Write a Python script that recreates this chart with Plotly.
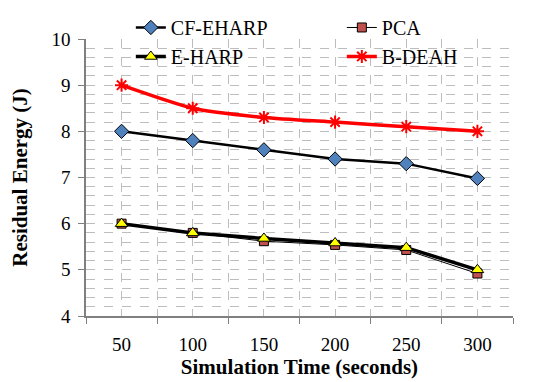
import plotly.graph_objects as go

times = [50, 100, 150, 200, 250, 300]
cf_eharp = [8.0, 7.8, 7.6, 7.4, 7.3, 6.98]
pca = [6.0, 5.8, 5.62, 5.54, 5.43, 4.92]
e_harp = [6.0, 5.8, 5.68, 5.58, 5.48, 5.0]
b_deah = [9.0, 8.5, 8.3, 8.2, 8.1, 8.0]

fig = go.Figure()
fig.add_trace(go.Scatter(x=times, y=cf_eharp, name="CF-EHARP", mode="lines+markers",
                         line=dict(color="black", width=2.5),
                         marker=dict(symbol="diamond", size=11, color="#4f81bd",
                                     line=dict(color="black", width=1))))
fig.add_trace(go.Scatter(x=times, y=pca, name="PCA", mode="lines+markers",
                         line=dict(color="black", width=1),
                         marker=dict(symbol="square", size=9, color="#c0504d",
                                     line=dict(color="black", width=1))))
fig.add_trace(go.Scatter(x=times, y=e_harp, name="E-HARP", mode="lines+markers",
                         line=dict(color="black", width=3.5),
                         marker=dict(symbol="triangle-up", size=11, color="#ffff00",
                                     line=dict(color="black", width=1))))
fig.add_trace(go.Scatter(x=times, y=b_deah, name="B-DEAH", mode="lines+markers",
                         line=dict(color="#ff0000", width=3.5, shape="spline", smoothing=0.6),
                         marker=dict(symbol="asterisk-open", size=11, color="#ff0000",
                                     line=dict(color="#ff0000", width=2))))

grid = "#bdbdbd"
serif = "Liberation Serif, Times New Roman, serif"
fig.update_layout(
    width=542, height=374,
    margin=dict(l=78, r=37, t=31, b=66, autoexpand=False),
    paper_bgcolor="white", plot_bgcolor="white",
    font=dict(family=serif, size=19, color="black"),
    legend=dict(orientation="h", x=0.105, y=1.112, xanchor="left", yanchor="top",
                entrywidth=166, entrywidthmode="pixels", bgcolor="rgba(0,0,0,0)",
                font=dict(family=serif, size=20), tracegroupgap=0),
    xaxis=dict(range=[25, 325], tickvals=times, ticktext=[str(t) for t in times],
               ticks="", showline=True, linecolor="#808080", linewidth=1.5,
               showgrid=True, gridcolor=grid, griddash="dash", gridwidth=1,
               zeroline=False, automargin=False, ticklabelstandoff=10,
               tickfont=dict(family=serif, size=19),
               minor=dict(tick0=25, dtick=50, ticks="outside", ticklen=6,
                          tickcolor="#808080", showgrid=True, gridcolor=grid,
                          griddash="dash"),
               title=dict(text="<b>Simulation Time (seconds)</b>", standoff=2,
                          font=dict(family=serif, size=21))),
    yaxis=dict(range=[4, 10], dtick=1, ticks="outside", ticklen=6, tickcolor="#808080",
               showline=True, linecolor="#808080", linewidth=1.5,
               showgrid=True, gridcolor=grid, griddash="dash", zeroline=False,
               automargin=False, ticklabelstandoff=4,
               tickfont=dict(family=serif, size=19),
               minor=dict(dtick=0.2, showgrid=True, gridcolor=grid, griddash="dash"),
               title=dict(text="<b>Residual Energy (J)</b>", standoff=20,
                          font=dict(family=serif, size=21))),
)

fig.write_html("out.html")
